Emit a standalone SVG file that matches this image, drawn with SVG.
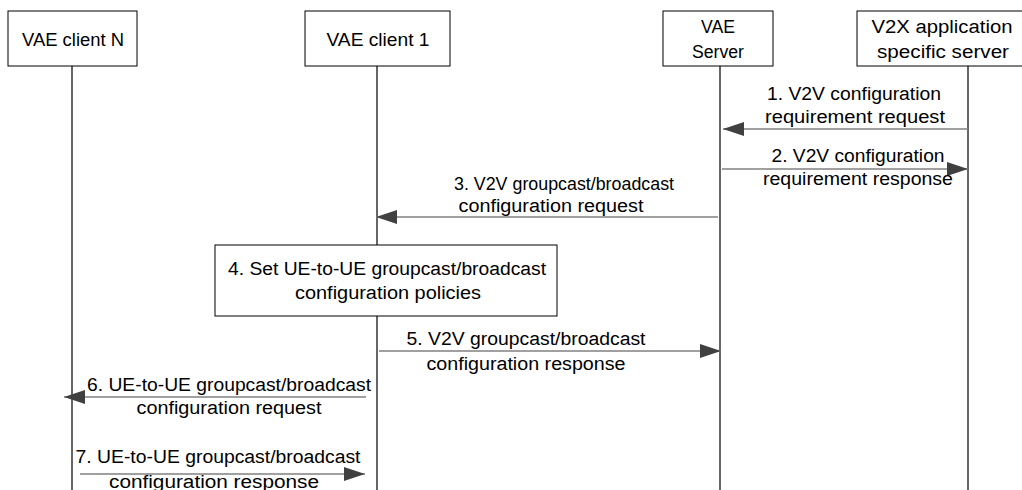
<svg xmlns="http://www.w3.org/2000/svg" width="1022" height="490" viewBox="0 0 1022 490">
<defs>
<style>
.box{fill:#fff;stroke:#000;stroke-width:1}
.life{stroke:#000;stroke-width:1.2;fill:none}
.msg{stroke:#808080;stroke-width:1.5;fill:none;marker-end:url(#ah)}
text{font-family:"Liberation Sans",Arial,sans-serif;font-size:18px;fill:#000;text-anchor:middle}
</style>
<marker id="ah" markerUnits="userSpaceOnUse" markerWidth="22" markerHeight="16" refX="21" refY="7" orient="auto">
<path d="M0,0 L21,7 L0,14 z" fill="#404040"/>
</marker>
</defs>
<rect width="1022" height="490" fill="#fff"/>
<g id="lifelines">
<line class="life" x1="72" y1="66" x2="72" y2="490"/>
<line class="life" x1="377" y1="66" x2="377" y2="490"/>
<line class="life" x1="720" y1="66" x2="720" y2="490"/>
<line class="life" x1="968" y1="66" x2="968" y2="490"/>
</g>
<g id="clientN">
<rect class="box" x="8" y="11" width="129" height="55"/>
<text x="73" y="46" textLength="102" lengthAdjust="spacingAndGlyphs">VAE client N</text>
</g>
<g id="client1">
<rect class="box" x="305" y="11" width="145" height="55"/>
<text x="378" y="46" textLength="103" lengthAdjust="spacingAndGlyphs">VAE client 1</text>
</g>
<g id="server">
<rect class="box" x="663" y="11" width="110" height="55"/>
<text x="718" y="33" textLength="34" lengthAdjust="spacingAndGlyphs">VAE</text>
<text x="718" y="58" textLength="52" lengthAdjust="spacingAndGlyphs">Server</text>
</g>
<g id="v2xserver">
<rect class="box" x="857" y="11" width="180" height="55"/>
<text x="942" y="33" textLength="141" lengthAdjust="spacingAndGlyphs">V2X application</text>
<text x="943" y="58" textLength="132" lengthAdjust="spacingAndGlyphs">specific server</text>
</g>
<g id="step4">
<rect class="box" x="215" y="245" width="342" height="71"/>
<text x="387" y="275" textLength="318" lengthAdjust="spacingAndGlyphs">4. Set UE-to-UE groupcast/broadcast</text>
<text x="388" y="299" textLength="186" lengthAdjust="spacingAndGlyphs">configuration policies</text>
</g>
<g id="connectors">
<line class="msg" x1="968" y1="129" x2="723" y2="129"/>
<line class="msg" x1="722" y1="169" x2="968" y2="169"/>
<line class="msg" x1="718" y1="217" x2="376" y2="217"/>
<line class="msg" x1="379" y1="351" x2="721" y2="351"/>
<line class="msg" x1="366" y1="397" x2="64" y2="397"/>
<line class="msg" x1="80" y1="474" x2="365" y2="474"/>
</g>
<g id="labels">
<text x="854" y="100" textLength="174" lengthAdjust="spacingAndGlyphs">1. V2V configuration</text>
<text x="855" y="123" textLength="180" lengthAdjust="spacingAndGlyphs">requirement request</text>
<text x="858" y="162" textLength="173" lengthAdjust="spacingAndGlyphs">2. V2V configuration</text>
<text x="858" y="185" textLength="190" lengthAdjust="spacingAndGlyphs">requirement response</text>
<text x="564" y="190" style="font-size:17.5px" textLength="220" lengthAdjust="spacingAndGlyphs">3. V2V groupcast/broadcast</text>
<text x="551" y="212" textLength="185" lengthAdjust="spacingAndGlyphs">configuration request</text>
<text x="526" y="345" textLength="239" lengthAdjust="spacingAndGlyphs">5. V2V groupcast/broadcast</text>
<text x="526" y="370" textLength="199" lengthAdjust="spacingAndGlyphs">configuration response</text>
<text x="229" y="391" textLength="284" lengthAdjust="spacingAndGlyphs">6. UE-to-UE groupcast/broadcast</text>
<text x="229" y="414" textLength="185" lengthAdjust="spacingAndGlyphs">configuration request</text>
<text x="218" y="463" textLength="285" lengthAdjust="spacingAndGlyphs">7. UE-to-UE groupcast/broadcast</text>
<text x="214" y="488" textLength="210" lengthAdjust="spacingAndGlyphs">configuration response</text>
</g>
</svg>
